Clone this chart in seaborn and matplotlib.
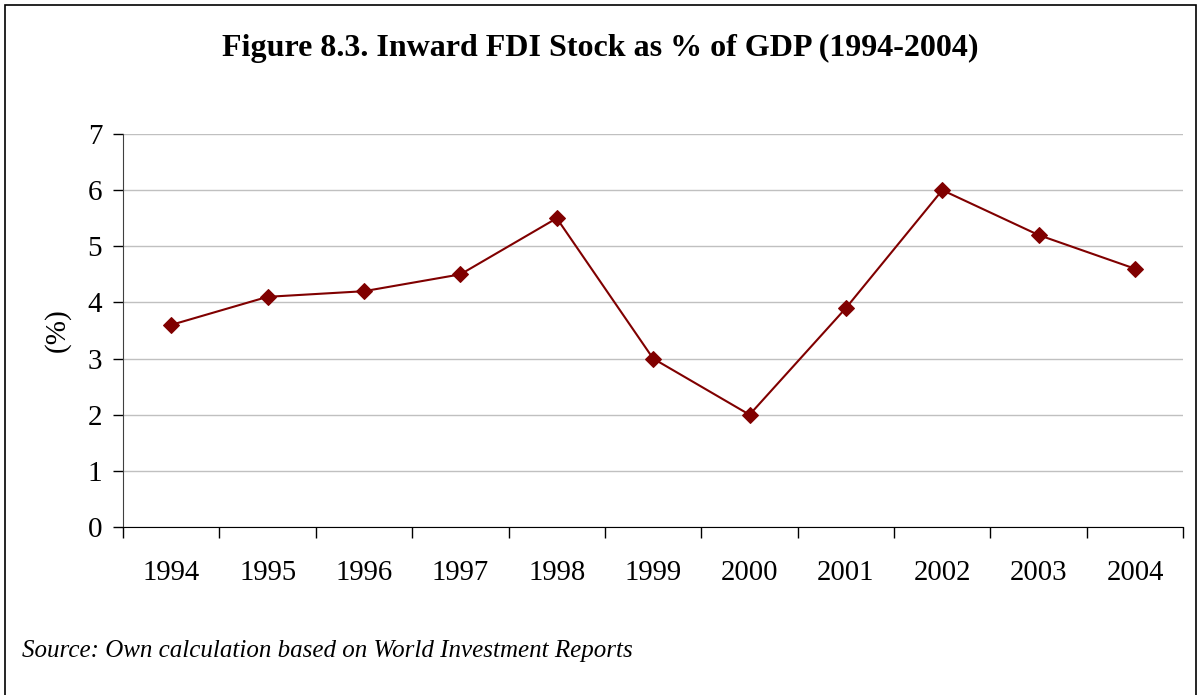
import pandas as pd
import matplotlib.pyplot as plt
import seaborn as sns
from matplotlib.patches import Rectangle
from matplotlib.ticker import FixedLocator

# Données
years = ['1994', '1995', '1996', '1997', '1998', '1999', '2000', '2001', '2002', '2003', '2004']
fdi_stock = [3.6, 4.1, 4.2, 4.5, 5.5, 3.0, 2.0, 3.9, 6.0, 5.2, 4.6]
y_ticks = [0, 1, 2, 3, 4, 5, 6, 7]

df = pd.DataFrame({'year': years, 'fdi': fdi_stock})

sns.set_style("white")
plt.rcParams['font.family'] = ['Liberation Serif', 'DejaVu Serif']
plt.rcParams['text.color'] = 'black'
plt.rcParams['axes.labelcolor'] = 'black'
plt.rcParams['xtick.color'] = 'black'
plt.rcParams['ytick.color'] = 'black'

fig = plt.figure(figsize=(11.98, 6.95), dpi=100)
ax = fig.add_axes([0.1027, 0.2417, 0.885, 0.5655])

sns.lineplot(data=df, x='year', y='fdi', ax=ax, color='#800000', linewidth=1.5,
             marker='D', markersize=8, markeredgecolor='#800000', sort=False)

ax.set_xlim(-0.5, len(years) - 0.5)
ax.set_ylim(0, 7)
ax.set_yticks(y_ticks)
ax.yaxis.grid(True, color='#c0c0c0', linewidth=1)
ax.set_axisbelow(True)

# Graduations entre les catégories (style Excel)
ax.xaxis.set_minor_locator(FixedLocator([i - 0.5 for i in range(len(years) + 1)]))
ax.tick_params(axis='x', which='major', length=0, pad=24, labelsize=20.7)
ax.tick_params(axis='x', which='minor', length=8, width=1, color='black', direction='out', bottom=True)
ax.tick_params(axis='y', length=7, width=1, color='black', direction='out', left=True, labelsize=21, pad=8)

for side in ['top', 'right']:
    ax.spines[side].set_visible(False)
ax.spines['left'].set_color('#404040')
ax.spines['bottom'].set_color('black')

ax.set_xlabel('')
ax.set_ylabel('(%)', fontsize=21, labelpad=12)

fig.text(0.501, 0.93, 'Figure 8.3. Inward FDI Stock as % of GDP (1994-2004)',
         ha='center', va='center', fontsize=23, fontweight='bold')
fig.text(0.018, 0.064, 'Source: Own calculation based on World Investment Reports',
         ha='left', va='center', fontsize=18, style='italic')

# Cadre autour du graphique
fig.patches.append(Rectangle((5 / 1198, -0.05), 1191 / 1198, 1.05 - 5 / 695,
                             transform=fig.transFigure, fill=False,
                             edgecolor='black', linewidth=1.2))

fig.savefig('out.png', dpi=100)
